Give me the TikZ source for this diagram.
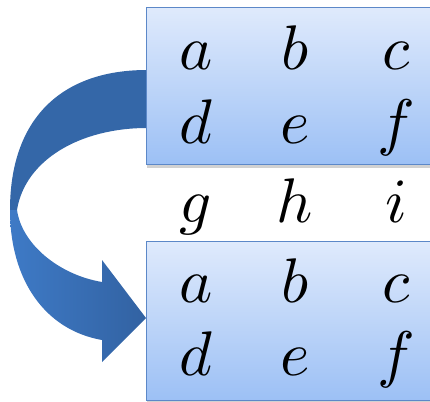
\documentclass[tikz,border=0pt]{standalone}
\usepackage{tikz}
\usetikzlibrary{backgrounds,shadows}
\definecolor{mxedge}{RGB}{92,136,200}
\definecolor{mxtop}{RGB}{223,234,252}
\definecolor{mxbot}{RGB}{156,192,245}
\definecolor{arback}{RGB}{52,103,168}
\definecolor{arlight}{RGB}{62,122,198}
\definecolor{ardark}{RGB}{50,98,162}
\tikzset{
  mxbox/.style={
    draw=mxedge, line width=1.4pt, top color=mxtop, bottom color=mxbot,
    minimum width=300pt, anchor=north west, inner sep=0pt,
    drop shadow={shadow xshift=0pt, shadow yshift=-3pt, opacity=0.3, fill=black!60}
  },
  ent/.style={inner sep=0pt, anchor=base, scale=6.3},
  bandback/.style={fill=arback},
  bandfront/.style={left color=arlight, right color=ardark}
}
\begin{document}
\begin{tikzpicture}[x=1pt, y=-1pt]
  \useasboundingbox (0,0) rectangle (430,401);
  % the two matrices
  \node[mxbox, minimum height=157pt] (top) at (146,7) {};
  \node[mxbox, minimum height=159pt] (bot) at (146,241) {};
  \node[ent] (a1) at (196,70) {$a$};
  \node[ent] (b1) at (295,70) {$b$};
  \node[ent] (c1) at (396,70) {$c$};
  \node[ent] (d1) at (196,143) {$d$};
  \node[ent] (e1) at (295,143) {$e$};
  \node[ent] (f1) at (396,143) {$f$};
  \node[ent] (g) at (196,222) {$g$};
  \node[ent] (h) at (295,222) {$h$};
  \node[ent] (i) at (396,222) {$i$};
  \node[ent] (a2) at (196,302) {$a$};
  \node[ent] (b2) at (295,302) {$b$};
  \node[ent] (c2) at (396,302) {$c$};
  \node[ent] (d2) at (196,375) {$d$};
  \node[ent] (e2) at (295,375) {$e$};
  \node[ent] (f2) at (396,375) {$f$};
  % curved arrow, behind the boxes
  \begin{scope}[on background layer]
    \fill[bandback] (147,70) .. controls (60,70) and (10,120) .. (10,210)
      -- (17,210) .. controls (25,160) and (80,128) .. (147,128) -- cycle;
    \shade[bandfront] (10,210) .. controls (10,280) and (45,330) .. (102,340)
      -- (102,362) -- (bot.west |- 0,318) -- (102,260) -- (102,282)
      .. controls (60,275) and (22,245) .. (17,210) -- cycle;
  \end{scope}
\end{tikzpicture}
\end{document}
